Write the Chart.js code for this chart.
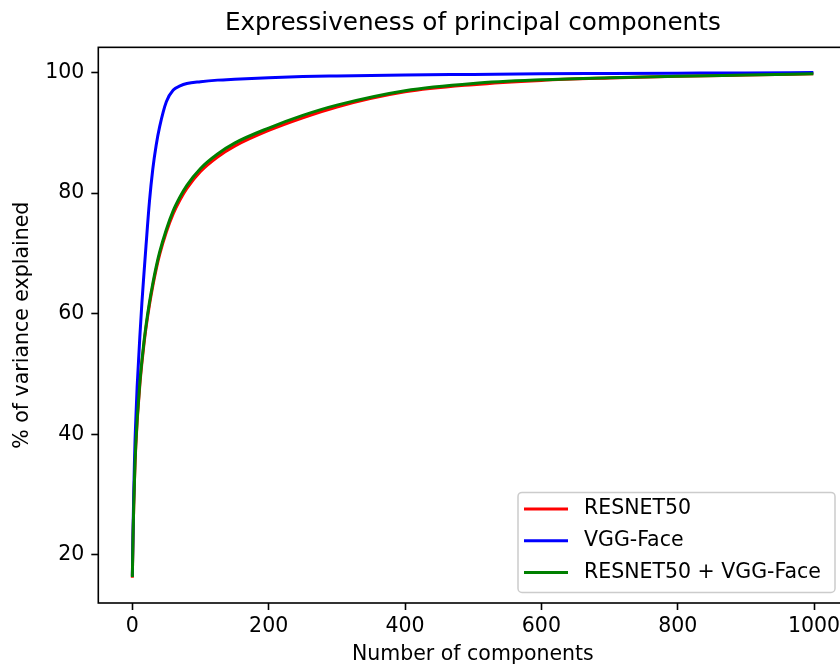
<!DOCTYPE html>
<html>
<head>
<meta charset="utf-8">
<title>Expressiveness of principal components</title>
<script src="https://cdn.jsdelivr.net/npm/chart.js@4.4.1/dist/chart.umd.min.js"></script>
<style>
  html, body { margin: 0; padding: 0; overflow: hidden; background: #fff; }
  #wrap { width: 860px; height: 667px; }
</style>
</head>
<body>
<div id="wrap"><canvas id="pca" width="860" height="667"></canvas></div>
<script>
// number of principal components kept (x values shared by all series)
const components = [0, 1, 2, 3, 4, 5, 7, 9, 11, 14, 17, 20, 25, 30, 35, 40, 50, 60, 70, 80, 100, 125, 150, 200, 250, 300, 400, 500, 600, 700, 800, 900, 999];

// % of variance explained
const resnet50 = [16.2, 22.8, 27.8, 31.8, 35.2, 37.9, 42, 45.2, 48.2, 51.8, 54.9, 57.6, 61.4, 64.6, 67.4, 69.8, 73.6, 76.6, 78.9, 80.8, 83.6, 86.0, 87.8, 90.4, 92.5, 94.3, 96.8, 98.0, 98.7, 99.1, 99.4, 99.6, 99.8];
const vggFace = [16.5, 24, 30, 35, 39.2, 42.2, 47.8, 52, 56.2, 61.8, 66.6, 71.2, 78.5, 84, 88, 91, 95.2, 97.1, 97.8, 98.2, 98.5, 98.75, 98.9, 99.15, 99.35, 99.45, 99.6, 99.7, 99.8, 99.85, 99.9, 99.95, 100];
const combined = [16.3, 23, 28, 32, 35.5, 38.2, 42.3, 45.5, 48.6, 52.2, 55.3, 58, 61.8, 65, 67.8, 70.2, 74, 77.1, 79.4, 81.3, 84.1, 86.5, 88.3, 90.8, 92.9, 94.6, 97.0, 98.2, 98.8, 99.15, 99.4, 99.6, 99.8];

const seriesNames = ['RESNET50', 'VGG-Face', 'RESNET50 + VGG-Face'];
const xTicks = [0, 200, 400, 600, 800, 1000];
const yTicks = [20, 40, 60, 80, 100];

const FONT = 'DejaVu Sans';
const FS = 20.5;

function points(values) {
  return components.map((x, i) => ({ x: x, y: values[i] }));
}

// matplotlib-style frame around the axes
const frame = {
  id: 'frame',
  afterDatasetsDraw(chart) {
    const { ctx, chartArea: a } = chart;
    ctx.save();
    ctx.strokeStyle = '#000';
    ctx.lineWidth = 1.6;
    ctx.strokeRect(a.left, a.top, a.right - a.left, a.bottom - a.top);
    ctx.restore();
  }
};

// legend box inside the lower right corner of the axes
const innerLegend = {
  id: 'innerLegend',
  afterDraw(chart) {
    const { ctx, chartArea: a } = chart;
    const w = 317, h = 100;
    const left = a.right - 12.4 - w;
    const top = a.bottom - 10.6 - h;
    ctx.save();
    ctx.beginPath();
    ctx.roundRect(left, top, w, h, 4);
    ctx.fillStyle = 'rgba(255,255,255,0.8)';
    ctx.fill();
    ctx.strokeStyle = '#cccccc';
    ctx.lineWidth = 1.5;
    ctx.stroke();

    ctx.font = FS + 'px "' + FONT + '"';
    ctx.textBaseline = 'middle';
    ctx.textAlign = 'left';
    chart.data.datasets.forEach((ds, i) => {
      const y = top + 16.6 + i * 31.7;
      ctx.beginPath();
      ctx.moveTo(left + 6, y);
      ctx.lineTo(left + 50, y);
      ctx.strokeStyle = ds.borderColor;
      ctx.lineWidth = 3;
      ctx.stroke();
      ctx.fillStyle = '#000';
      ctx.fillText(ds.label, left + 66, y);
    });
    ctx.restore();
  }
};

new Chart(document.getElementById('pca'), {
  type: 'line',
  data: {
    datasets: [
      { label: seriesNames[0], data: points(resnet50), borderColor: '#ff0000', order: 2 },
      { label: seriesNames[1], data: points(vggFace), borderColor: '#0000ff', order: 1 },
      { label: seriesNames[2], data: points(combined), borderColor: '#008000', order: 0 }
    ]
  },
  options: {
    responsive: false,
    animation: false,
    devicePixelRatio: 1,
    layout: { padding: { top: 0, right: 12.6, bottom: 0, left: 0 } },
    elements: {
      point: { radius: 0, hoverRadius: 0 },
      line: { borderWidth: 3, fill: false, cubicInterpolationMode: 'monotone' }
    },
    plugins: {
      legend: { display: false },
      tooltip: { enabled: false },
      title: {
        display: true,
        fullSize: false,
        text: 'Expressiveness of principal components',
        color: '#000',
        font: { family: FONT, size: 24.7, weight: 'normal' },
        padding: { top: 9, bottom: 8.7 }
      }
    },
    scales: {
      x: {
        type: 'linear',
        min: -49.95,
        max: 1048.95,
        afterBuildTicks: s => { s.ticks = xTicks.map(v => ({ value: v })); },
        afterFit: s => { s.height = 64; },
        ticks: {
          color: '#000',
          font: { family: FONT, size: FS },
          padding: 4,
          maxRotation: 0,
          autoSkip: false,
          callback: v => String(v)
        },
        grid: { drawOnChartArea: false, tickLength: 7, tickWidth: 1.6, tickColor: '#000' },
        border: { display: false },
        title: {
          display: true,
          text: 'Number of components',
          color: '#000',
          font: { family: FONT, size: FS },
          padding: { top: 0, bottom: 0 }
        }
      },
      y: {
        min: 12.0,
        max: 104.19,
        afterBuildTicks: s => { s.ticks = yTicks.map(v => ({ value: v })); },
        afterFit: s => { s.width = 98.3; },
        ticks: {
          color: '#000',
          font: { family: FONT, size: FS },
          padding: 7,
          callback: v => String(v)
        },
        grid: { drawOnChartArea: false, tickLength: 7, tickWidth: 1.6, tickColor: '#000' },
        border: { display: false },
        title: {
          display: true,
          text: '% of variance explained',
          color: '#000',
          font: { family: FONT, size: FS },
          padding: { top: 10, bottom: 0 }
        }
      }
    }
  },
  plugins: [frame, innerLegend]
});
</script>
</body>
</html>
